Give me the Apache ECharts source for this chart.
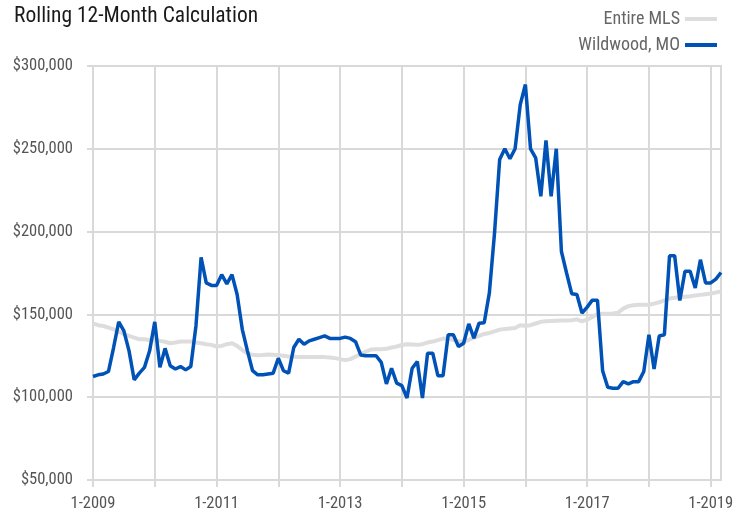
<!DOCTYPE html>
<html>
<head>
<meta charset="utf-8">
<script src="https://cdn.jsdelivr.net/npm/echarts@6/dist/echarts.min.js"></script>
<style>
html,body{margin:0;padding:0;background:#fff;}
#chart{width:748px;height:515px;}
</style>
</head>
<body>
<div id="chart"></div>
<script>
// Months 1-2009 .. 3-2019
const months = [];
for (let y = 2009; y <= 2019; y++) {
  for (let m = 1; m <= 12; m++) {
    if (y === 2019 && m > 3) break;
    months.push(m + '-' + y);
  }
}

const seriesNames = ['Entire MLS', 'Wildwood, MO'];

// Values in thousands of dollars
const entireMLS = [
  144.5,143.5,143,142,141,139.5,138,137,136,135,135,134.6,
  134.5,134,133.5,132.6,133,133.6,133.6,133.6,133,132.6,132,131.6,
  130.6,131,132,132.6,131,128.5,126.5,125.6,125.3,125.5,125.8,125.6,
  125.4,125,124.6,124.4,124.2,124.2,124.2,124.2,124.2,124.2,124,123.6,
  123,122.4,123,124.5,126,127.5,128.8,129,129,129.2,130,130.6,
  131.5,132,131.8,131.6,132,133,133.6,134.5,135.4,135.5,134.5,133.8,
  133.6,134.5,136,137,138.2,138.8,139.8,140.8,141.2,141.5,141.8,143.5,
  143.2,143.5,144.5,145.5,145.8,146,146.2,146.3,146.3,146.5,147,145.8,
  146.8,148.5,150,150.4,150.4,150.5,151,153.5,155,155.5,155.8,155.8,
  155.8,156.5,157.3,158.5,159.6,160,160.3,160.7,161,161.4,161.8,162.2,
  162.6,163.2,163.9
];

const wildwood = [
  112.5,113.5,114,115.5,130,145.5,140,128,110.5,114.5,118,128,
  145.5,118,129.5,119,117,118.5,116.5,118.5,143,184.5,169,167.5,
  167.5,174,168.5,174,162,141,128,116,113.5,113.5,114,114.5,
  123.5,116,114.5,130,135,132,134,135,136,137,135.5,135.5,
  135.5,136.3,135.5,133.5,125.5,125,125,125,121,108,117.5,108.5,
  107,99.5,117.5,121.5,99.5,126.6,126.6,113,113,137.7,137.7,130.6,
  132.6,144.3,135.7,144.7,145,163,199,243.5,250,244,250,276.7,
  288.8,250,244.5,221.3,255,221.3,250,188,175,162.5,162,150.8,
  154.4,158.6,158.6,116,106,105.4,105.4,109.4,108,109.4,109.4,115.5,
  137.7,117,137,137.7,185.4,185.4,158.4,176,176,166,183,169,
  169,171.3,175.3
];

const yTicks = [50000, 100000, 150000, 200000, 250000, 300000];

const FONT = '"Liberation Sans Narrow", "Roboto Condensed", "DejaVu Sans Condensed", "Liberation Sans", sans-serif';

const chart = echarts.init(document.getElementById('chart'), null, {renderer: 'canvas'});
chart.setOption({
  animation: false,
  backgroundColor: '#ffffff',
  title: {
    text: 'Rolling 12-Month Calculation',
    left: 9, top: 1,
    textStyle: {fontFamily: FONT, fontSize: 21.5, fontWeight: 'normal', color: '#1a1a1a'}
  },
  legend: {
    orient: 'vertical',
    right: 26, top: 5,
    align: 'right',
    itemGap: 8,
    itemWidth: 32, itemHeight: 4,
    icon: 'rect',
    textStyle: {fontFamily: FONT, fontSize: 18, color: '#666666'},
    data: seriesNames
  },
  grid: {
    left: 93, right: 27, top: 66, bottom: 35,
    show: true, borderColor: '#d9d9d9', borderWidth: 2
  },
  xAxis: {
    type: 'category',
    boundaryGap: false,
    data: months,
    axisLine: {lineStyle: {color: '#d9d9d9', width: 2}},
    axisTick: {show: true, length: 7, interval: function (i) { return i % 12 === 0; }, lineStyle: {color: '#d9d9d9', width: 2}},
    splitLine: {show: true, interval: function (i) { return i % 12 === 0; }, lineStyle: {color: '#d9d9d9', width: 2}},
    axisLabel: {
      interval: function (i) { return i % 24 === 0; },
      margin: 15,
      fontFamily: FONT, fontSize: 16.5, color: '#555555'
    }
  },
  yAxis: {
    type: 'value',
    min: yTicks[0], max: yTicks[yTicks.length - 1], interval: 50000,
    axisLine: {show: true, lineStyle: {color: '#d9d9d9', width: 2}},
    axisTick: {show: true, length: 6, lineStyle: {color: '#d9d9d9', width: 2}},
    splitLine: {show: true, lineStyle: {color: '#d9d9d9', width: 2}},
    axisLabel: {
      margin: 20,
      fontFamily: FONT, fontSize: 16.5, color: '#555555',
      formatter: function (v) { return '$' + v.toLocaleString('en-US'); }
    }
  },
  series: [
    {
      name: seriesNames[0], type: 'line', showSymbol: false, symbol: 'none',
      data: entireMLS.map(v => v * 1000),
      lineStyle: {color: '#dddddd', width: 4},
      itemStyle: {color: '#dddddd'},
      z: 2
    },
    {
      name: seriesNames[1], type: 'line', showSymbol: false, symbol: 'none',
      data: wildwood.map(v => v * 1000),
      lineStyle: {color: '#0052b6', width: 3.5},
      itemStyle: {color: '#0052b6'},
      z: 3
    }
  ]
});
</script>
</body>
</html>
